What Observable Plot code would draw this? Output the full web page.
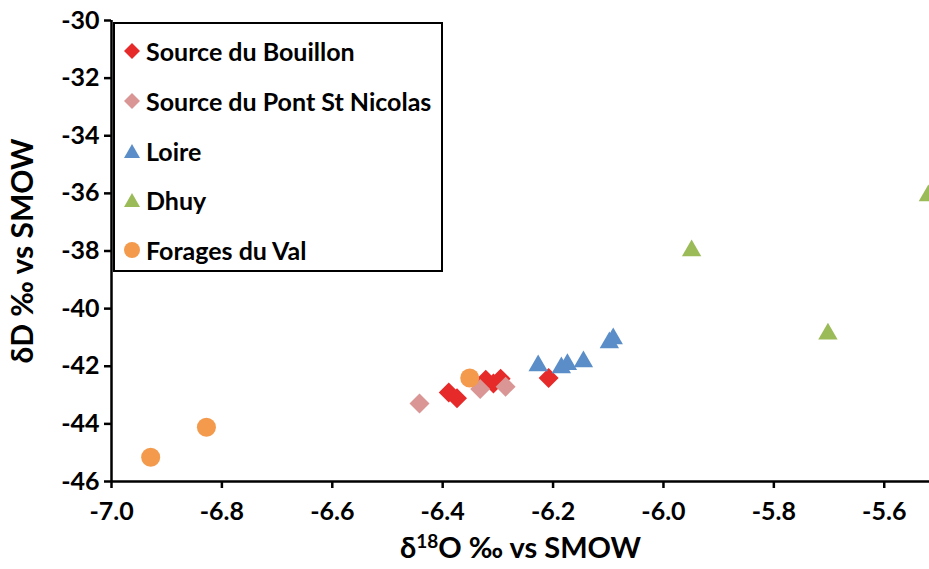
<!DOCTYPE html>
<html>
<head>
<meta charset="utf-8">
<script src="https://cdn.jsdelivr.net/npm/d3@7"></script>
<script src="https://cdn.jsdelivr.net/npm/@observablehq/plot@0.6"></script>
<style>
  html, body { margin: 0; padding: 0; background: white; overflow: hidden; }
  #wrap { position: relative; width: 929px; height: 569px; font-family: Lato, "Open Sans", sans-serif; }
  #wrap svg text { font-weight: 700; }
  #legend { position: absolute; left: 113px; top: 22px; width: 326px; height: 246px; border: 2px solid black; background: white; }
  .row { position: absolute; left: 0; height: 30px; display: flex; align-items: center; font-weight: 700; font-size: 25px; color: black; white-space: nowrap; }
  .row svg { margin-left: 9px; margin-right: 6px; }
</style>
</head>
<body>
<div id="wrap"></div>
<script>
// Series names
const seriesNames = ["Source du Bouillon", "Source du Pont St Nicolas", "Loire", "Dhuy", "Forages du Val"];
const seriesColors = ["#e62a2a", "#d99694", "#5b8ec8", "#9bbb59", "#f39a4d"];
const seriesSymbols = ["diamond2", "diamond2", "triangle", "triangle", "circle"];

// δ18O (x) and δD (y) values per series
const bouillonX = [-6.389, -6.374, -6.322, -6.308, -6.295, -6.208];
const bouillonY = [-42.91, -43.11, -42.47, -42.60, -42.43, -42.41];
const pontX = [-6.442, -6.332, -6.286];
const pontY = [-43.29, -42.79, -42.71];
const loireX = [-6.227, -6.185, -6.174, -6.145, -6.098, -6.091];
const loireY = [-41.98, -42.05, -41.94, -41.84, -41.18, -41.04];
const dhuyX = [-5.949, -5.702, -5.520];
const dhuyY = [-37.99, -40.88, -36.08];
const foragesX = [-6.929, -6.828, -6.351];
const foragesY = [-45.16, -44.12, -42.41];

// Axis ticks
const xTicks = [-7.0, -6.8, -6.6, -6.4, -6.2, -6.0, -5.8, -5.6];
const yTicks = [-46, -44, -42, -40, -38, -36, -34, -32, -30];

const allX = [bouillonX, pontX, loireX, dhuyX, foragesX];
const allY = [bouillonY, pontY, loireY, dhuyY, foragesY];
const radii = [9, 9, 7.2, 7.2, 9.5];

const dotMarks = seriesNames.map((name, i) => {
  const rows = allX[i].map((x, j) => ({series: name, x, y: allY[i][j]}));
  return Plot.dot(rows, {x: "x", y: "y", symbol: () => seriesSymbols[i], fill: seriesColors[i], stroke: "none", r: radii[i]});
});

const F = "Lato, 'Open Sans', sans-serif";
const chart = Plot.plot({
  width: 929, height: 569,
  marginLeft: 111, marginRight: 0, marginTop: 20, marginBottom: 88,
  style: {fontFamily: F, fontSize: "25px", fontWeight: "700", color: "black", background: "white"},
  x: {domain: [-7, -5.518]},
  y: {domain: [-46, -30]},
  symbol: {type: "identity"},
  marks: [
    ...dotMarks,
    Plot.ruleX([-7], {stroke: "black", strokeWidth: 2.5}),
    Plot.ruleY([-46], {stroke: "black", strokeWidth: 2.5}),
    Plot.axisX({ticks: xTicks, tickFormat: d => d.toFixed(1), tickSize: 7, tickPadding: 14, strokeWidth: 2.5, fontSize: 25, label: null}),
    Plot.axisY({ticks: yTicks, tickFormat: d => String(d), tickSize: 7, tickPadding: 5, strokeWidth: 2.5, fontSize: 25, label: null}),
    Plot.text(["δ18O ‰ vs SMOW"], {frameAnchor: "bottom", dy: 76, fontSize: 29, fill: "black", className: "xtitle"}),
    Plot.text(["δD ‰ vs SMOW"], {frameAnchor: "left", textAnchor: "middle", dx: -88, rotate: -90, fontSize: 30, fill: "black"})
  ]
});

document.getElementById("wrap").appendChild(chart);

// superscript 18 in x title
const xt = chart.querySelector(".xtitle text");
if (xt) {
  xt.textContent = "";
  const ns = "http://www.w3.org/2000/svg";
  const t1 = document.createElementNS(ns, "tspan"); t1.textContent = "δ";
  const t2 = document.createElementNS(ns, "tspan"); t2.textContent = "18"; t2.setAttribute("font-size", "19"); t2.setAttribute("dy", "-10");
  const t3 = document.createElementNS(ns, "tspan"); t3.textContent = "O ‰ vs SMOW"; t3.setAttribute("dy", "10");
  xt.append(t1, t2, t3);
}

// Legend
const legend = document.createElement("div");
legend.id = "legend";
const rowTops = [12, 62, 112, 161, 211];
seriesNames.forEach((name, i) => {
  const row = document.createElement("div");
  row.className = "row";
  row.style.top = rowTops[i] + "px";
  let shape;
  if (seriesSymbols[i] === "diamond2") shape = `<polygon points="8,0 16,8 8,16 0,8" fill="${seriesColors[i]}"/>`;
  else if (seriesSymbols[i] === "triangle") shape = `<polygon points="8,1 16,15 0,15" fill="${seriesColors[i]}"/>`;
  else shape = `<circle cx="8" cy="8" r="8" fill="${seriesColors[i]}"/>`;
  row.innerHTML = `<svg width="16" height="16" viewBox="0 0 16 16">${shape}</svg><span>${name}</span>`;
  legend.appendChild(row);
});
document.getElementById("wrap").appendChild(legend);
</script>
</body>
</html>
